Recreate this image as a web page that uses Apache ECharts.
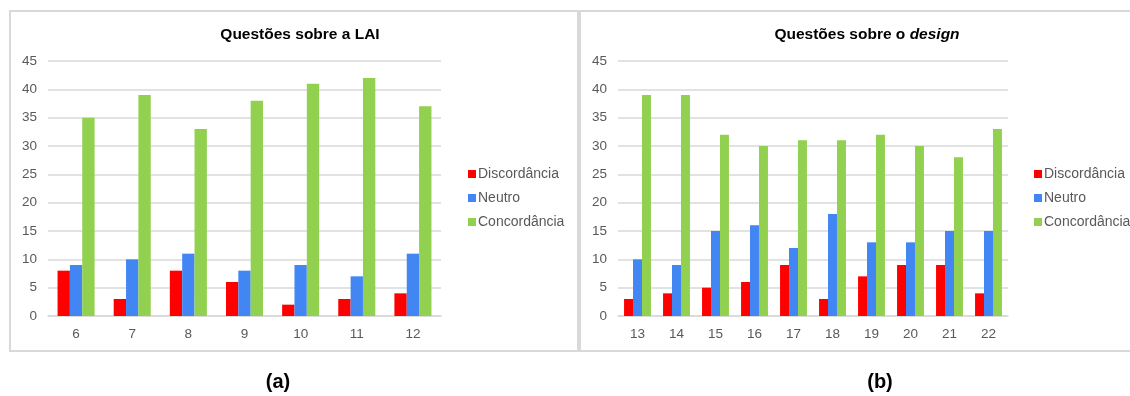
<!DOCTYPE html>
<html>
<head>
<meta charset="utf-8">
<script src="https://cdn.jsdelivr.net/npm/echarts@6/dist/echarts.min.js"></script>
<style>
  html, body { margin: 0; padding: 0; background: #fff; }
  #container { width: 1130px; height: 396px; }
</style>
</head>
<body>
<div id="container"></div>
<script>
// dados
var seriesNames = ['Discordância', 'Neutro', 'Concordância'];
var laiQuestions = ['6', '7', '8', '9', '10', '11', '12'];
var laiDiscordancia = [8, 3, 8, 6, 2, 3, 4];
var laiNeutro = [9, 10, 11, 8, 9, 7, 11];
var laiConcordancia = [35, 39, 33, 38, 41, 42, 37];

var designQuestions = ['13', '14', '15', '16', '17', '18', '19', '20', '21', '22'];
var designDiscordancia = [3, 4, 5, 6, 9, 3, 7, 9, 9, 4];
var designNeutro = [10, 9, 15, 16, 12, 18, 13, 13, 15, 15];
var designConcordancia = [39, 39, 32, 30, 31, 31, 32, 30, 28, 33];

var colors = ['#ff0000', '#4286f4', '#92d050'];
var font = 'Arial, "Liberation Sans", sans-serif';

var myChart = echarts.init(document.getElementById('container'));

function yAxis(idx) {
    return {
        type: 'value', gridIndex: idx, min: 0, max: 45, interval: 5,
        axisLine: { show: false }, axisTick: { show: false },
        axisLabel: { color: '#595959', fontSize: 13.5, fontFamily: font, margin: 11 },
        splitLine: { lineStyle: { color: '#d9d9d9', width: 1.5 } }
    };
}
function xAxis(idx, data) {
    return {
        type: 'category', gridIndex: idx, data: data,
        axisLine: { lineStyle: { color: '#d9d9d9', width: 1.5 } },
        axisTick: { show: false },
        axisLabel: { color: '#595959', fontSize: 13.5, fontFamily: font, margin: 11 }
    };
}
function bars(idx, name, data, color, gap) {
    return {
        name: name, type: 'bar', xAxisIndex: idx, yAxisIndex: idx,
        data: data, barGap: 0, barCategoryGap: gap,
        itemStyle: { color: color }
    };
}
function legend(left) {
    return {
        data: seriesNames, orient: 'vertical', left: left, top: 162,
        icon: 'rect', itemWidth: 8, itemHeight: 8, itemGap: 10,
        textStyle: { color: '#595959', fontSize: 14, fontFamily: font, padding: [0, 0, 0, -3] }
    };
}

var option = {
    animation: false,
    color: colors,
    title: [
        {
            text: 'Questões sobre a LAI', left: 295, top: 22, textAlign: 'center',
            textStyle: { fontSize: 15.5, fontWeight: 'bold', color: '#000', fontFamily: font }
        },
        {
            text: '{a|Questões sobre o }{b|design}', left: 862, top: 22, textAlign: 'center',
            textStyle: {
                rich: {
                    a: { fontSize: 15.5, fontWeight: 'bold', color: '#000', fontFamily: font },
                    b: { fontSize: 15.5, fontWeight: 'bold', fontStyle: 'italic', color: '#000', fontFamily: font }
                }
            }
        }
    ],
    legend: [legend(463), legend(1029)],
    grid: [
        { left: 48, top: 61, width: 393, height: 255 },
        { left: 618, top: 61, width: 390, height: 255 }
    ],
    xAxis: [xAxis(0, laiQuestions), xAxis(1, designQuestions)],
    yAxis: [yAxis(0), yAxis(1)],
    series: [
        bars(0, seriesNames[0], laiDiscordancia, colors[0], '34%'),
        bars(0, seriesNames[1], laiNeutro, colors[1], '34%'),
        bars(0, seriesNames[2], laiConcordancia, colors[2], '34%'),
        bars(1, seriesNames[0], designDiscordancia, colors[0], '31%'),
        bars(1, seriesNames[1], designNeutro, colors[1], '31%'),
        bars(1, seriesNames[2], designConcordancia, colors[2], '31%')
    ],
    graphic: [
        { type: 'rect', shape: { x: 10, y: 11, width: 568, height: 340 }, style: { fill: 'none', stroke: '#d9d9d9', lineWidth: 2 }, z: -1 },
        { type: 'rect', shape: { x: 580, y: 11, width: 560, height: 340 }, style: { fill: 'none', stroke: '#d9d9d9', lineWidth: 2 }, z: -1 },
        { type: 'text', x: 278, y: 382, style: { text: '(a)', font: 'bold 20px ' + font, fill: '#000', textAlign: 'center', textVerticalAlign: 'middle' } },
        { type: 'text', x: 880, y: 382, style: { text: '(b)', font: 'bold 20px ' + font, fill: '#000', textAlign: 'center', textVerticalAlign: 'middle' } }
    ]
};

myChart.setOption(option, true);
window.onresize = function () {
    myChart.resize();
};
</script>
</body>
</html>
